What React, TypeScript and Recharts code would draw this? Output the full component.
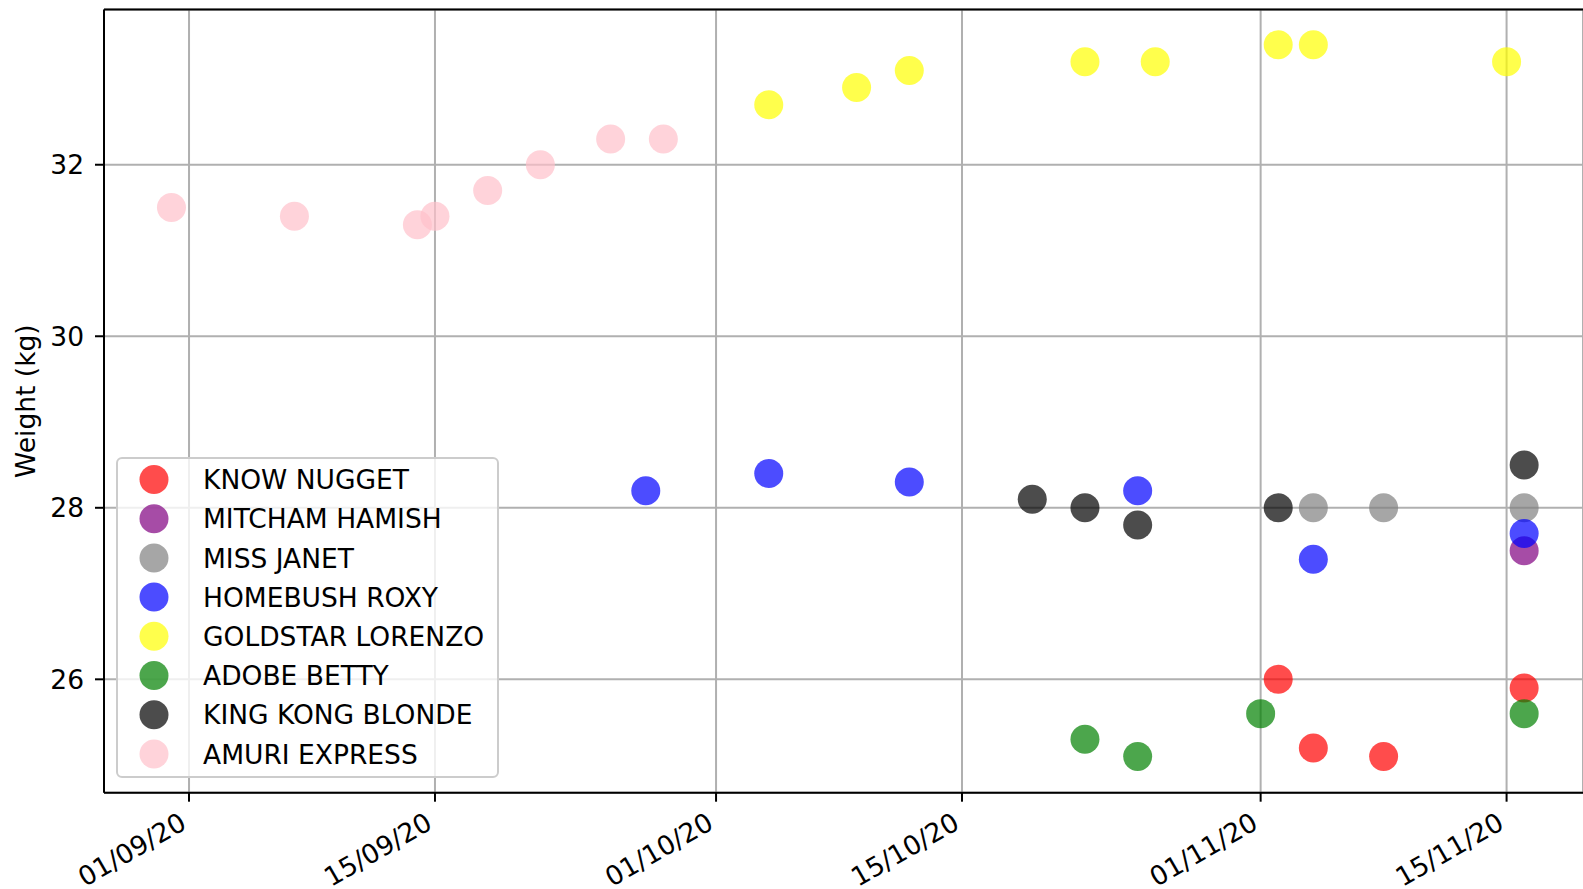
import React from "react";
import { ScatterChart, Scatter, XAxis, YAxis, CartesianGrid, ReferenceLine } from "recharts";

// weigh-in dates and weights (kg) per dog
const knowNuggetDates = ["2020-11-02", "2020-11-04", "2020-11-08", "2020-11-16"];
const knowNuggetWeights = [26.0, 25.2, 25.1, 25.9];

const mitchamHamishDates = ["2020-11-16"];
const mitchamHamishWeights = [27.5];

const missJanetDates = ["2020-11-04", "2020-11-08", "2020-11-16"];
const missJanetWeights = [28.0, 28.0, 28.0];

const homebushRoxyDates = ["2020-09-27", "2020-10-04", "2020-10-12", "2020-10-25", "2020-11-04", "2020-11-16"];
const homebushRoxyWeights = [28.2, 28.4, 28.3, 28.2, 27.4, 27.7];

const goldstarLorenzoDates = ["2020-10-04", "2020-10-09", "2020-10-12", "2020-10-22", "2020-10-26", "2020-11-02", "2020-11-04", "2020-11-15"];
const goldstarLorenzoWeights = [32.7, 32.9, 33.1, 33.2, 33.2, 33.4, 33.4, 33.2];

const adobeBettyDates = ["2020-10-22", "2020-10-25", "2020-11-01", "2020-11-16"];
const adobeBettyWeights = [25.3, 25.1, 25.6, 25.6];

const kingKongBlondeDates = ["2020-10-19", "2020-10-22", "2020-10-25", "2020-11-02", "2020-11-16"];
const kingKongBlondeWeights = [28.1, 28.0, 27.8, 28.0, 28.5];

const amuriExpressDates = ["2020-08-31", "2020-09-07", "2020-09-14", "2020-09-15", "2020-09-18", "2020-09-21", "2020-09-25", "2020-09-28"];
const amuriExpressWeights = [31.5, 31.4, 31.3, 31.4, 31.7, 32.0, 32.3, 32.3];

const xTickDates = ["2020-09-01", "2020-09-15", "2020-10-01", "2020-10-15", "2020-11-01", "2020-11-15"];
const yTicks = [26, 28, 30, 32];

const BASE = Date.parse("2020-09-01");
const toDay = (s: string) => (Date.parse(s) - BASE) / 86400000;
const fmtDate = (day: number) => {
    const d = new Date(BASE + Math.round(day) * 86400000);
    const dd = String(d.getUTCDate()).padStart(2, "0");
    const mm = String(d.getUTCMonth() + 1).padStart(2, "0");
    const yy = String(d.getUTCFullYear()).slice(2);
    return `${dd}/${mm}/${yy}`;
};

const toPoints = (dates: string[], weights: number[]) =>
    dates.map((d, i) => ({ x: toDay(d), y: weights[i] }));

const series = [
    { name: "KNOW NUGGET", color: "red", data: toPoints(knowNuggetDates, knowNuggetWeights) },
    { name: "MITCHAM HAMISH", color: "purple", data: toPoints(mitchamHamishDates, mitchamHamishWeights) },
    { name: "MISS JANET", color: "grey", data: toPoints(missJanetDates, missJanetWeights) },
    { name: "HOMEBUSH ROXY", color: "blue", data: toPoints(homebushRoxyDates, homebushRoxyWeights) },
    { name: "GOLDSTAR LORENZO", color: "yellow", data: toPoints(goldstarLorenzoDates, goldstarLorenzoWeights) },
    { name: "ADOBE BETTY", color: "green", data: toPoints(adobeBettyDates, adobeBettyWeights) },
    { name: "KING KONG BLONDE", color: "black", data: toPoints(kingKongBlondeDates, kingKongBlondeWeights) },
    { name: "AMURI EXPRESS", color: "pink", data: toPoints(amuriExpressDates, amuriExpressWeights) },
];

const FONT = "DejaVu Sans";
const FS = 26.5;
const R = 14.5;
const Y_MIN = 24.678;
const Y_MAX = 33.81;

const XTick = (props: any) => {
    const { x, y, payload } = props;
    return (
        <g transform={`translate(${x - 1},${y + 26}) rotate(-30)`}>
            <text textAnchor="end" fontFamily={FONT} fontSize={FS} fill="#000">
                {fmtDate(payload.value)}
            </text>
        </g>
    );
};

const YLabel = (props: any) => {
    const vb = props.viewBox || {};
    const cy = vb.y + vb.height / 2;
    return (
        <text
            x={35}
            y={cy}
            transform={`rotate(-90, 35, ${cy})`}
            textAnchor="middle"
            fontFamily={FONT}
            fontSize={FS}
            fill="#000"
        >
            Weight (kg)
        </text>
    );
};

const LegendBox = () => (
    <svg width={384} height={322} style={{ position: "absolute", left: 116, top: 457 }}>
        <rect x={1} y={1} width={381} height={319} rx={5} ry={5}
            fill="#fff" fillOpacity={0.8} stroke="#cccccc" strokeWidth={2} />
        {series.map((s, i) => (
            <g key={s.name}>
                <circle cx={38} cy={22.5 + i * 39.2} r={R} fill={s.color} fillOpacity={0.7} />
                <text x={87} y={22.5 + i * 39.2 + 9.6} fontFamily={FONT} fontSize={FS} fill="#000">
                    {s.name}
                </text>
            </g>
        ))}
    </svg>
);

export default function App() {
    return (
        <div style={{ position: "absolute", left: 0, top: 0, width: 1583, height: 889, background: "#fff" }}>
            <ScatterChart
                width={1583}
                height={889}
                margin={{ top: 9.5, right: 0, left: 0, bottom: 0 }}
            >
                <CartesianGrid stroke="#b0b0b0" strokeWidth={2} />
                <XAxis
                    type="number"
                    dataKey="x"
                    domain={[-4.84, 79.35]}
                    ticks={xTickDates.map(toDay)}
                    allowDataOverflow
                    height={96.3}
                    tickSize={9}
                    tickMargin={0}
                    tick={<XTick />}
                    axisLine={{ stroke: "#000", strokeWidth: 2 }}
                    tickLine={{ stroke: "#000", strokeWidth: 2 }}
                />
                <YAxis
                    type="number"
                    dataKey="y"
                    domain={[Y_MIN, Y_MAX]}
                    ticks={yTicks}
                    allowDataOverflow
                    width={104}
                    tickSize={9}
                    tickMargin={11}
                    tick={{ fontFamily: FONT, fontSize: FS, fill: "#000" }}
                    axisLine={{ stroke: "#000", strokeWidth: 2 }}
                    tickLine={{ stroke: "#000", strokeWidth: 2 }}
                    label={<YLabel />}
                />
                <ReferenceLine y={Y_MAX} stroke="#000" strokeWidth={2} />
                {series.map((s) => (
                    <Scatter
                        key={s.name}
                        name={s.name}
                        data={s.data}
                        isAnimationActive={false}
                        shape={(p: any) => (
                            <circle cx={p.cx} cy={p.cy} r={R} fill={s.color} fillOpacity={0.7} />
                        )}
                    />
                ))}
            </ScatterChart>
            <LegendBox />
        </div>
    );
}
